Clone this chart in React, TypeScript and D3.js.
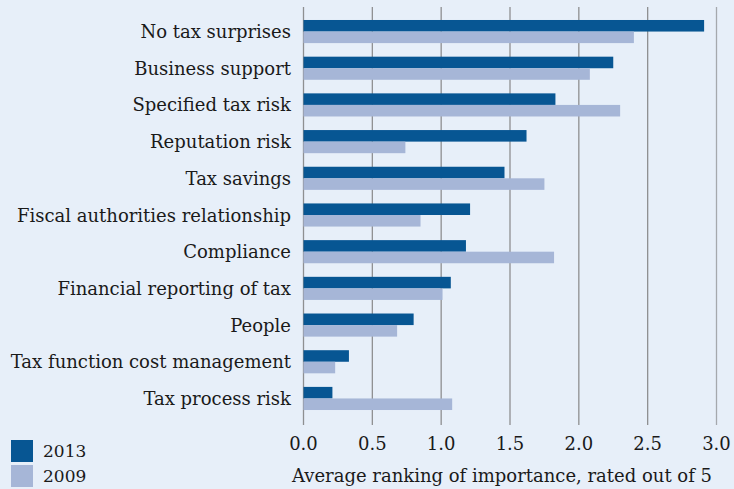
import React from "react";
import * as d3 from "d3";

const categories = [
  "No tax surprises",
  "Business support",
  "Specified tax risk",
  "Reputation risk",
  "Tax savings",
  "Fiscal authorities relationship",
  "Compliance",
  "Financial reporting of tax",
  "People",
  "Tax function cost management",
  "Tax process risk",
];
const values2013 = [2.91, 2.25, 1.83, 1.62, 1.46, 1.21, 1.18, 1.07, 0.8, 0.33, 0.21];
const values2009 = [2.4, 2.08, 2.3, 0.74, 1.75, 0.85, 1.82, 1.01, 0.68, 0.23, 1.08];
const seriesNames = ["2013", "2009"];
const xTicks = [0, 0.5, 1, 1.5, 2, 2.5, 3];
const axisTitle = "Average ranking of importance, rated out of 5";

const W = 734;
const H = 489;
const BG = "#e7eff9";
const C2013 = "#075693";
const C2009 = "#a6b6d7";
const FONT = "'DejaVu Serif', serif";

export default function App() {
  const x = d3.scaleLinear().domain([0, 3]).range([303.5, 716.5]);
  const y = d3
    .scaleBand<string>()
    .domain(categories)
    .range([13.2, 416.8])
    .paddingInner(0.37)
    .paddingOuter(0.185);
  const sub = d3.scaleBand<string>().domain(seriesNames).range([0, y.bandwidth()]);
  const series = [values2013, values2009];
  const colors = [C2013, C2009];

  return (
    <svg
      width={W}
      height={H}
      style={{ position: "absolute", left: 0, top: 0, display: "block" }}
    >
      <rect x={0} y={0} width={W} height={H} fill={BG} />
      {xTicks.map((t, i) => (
        <line
          key={"g" + i}
          x1={x(t)}
          x2={x(t)}
          y1={7}
          y2={425}
          stroke={i === xTicks.length - 1 ? "#a5a8ad" : "#8e8f91"}
          strokeWidth={1.3}
        />
      ))}
      {categories.map((c, ci) => (
        <g key={c}>
          {series.map((vals, si) => (
            <rect
              key={si}
              x={x(0)}
              y={(y(c) as number) + (sub(seriesNames[si]) as number)}
              width={x(vals[ci]) - x(0)}
              height={sub.bandwidth()}
              fill={colors[si]}
            />
          ))}
          <text
            x={291}
            y={(y(c) as number) + y.bandwidth() / 2}
            textAnchor="end"
            dominantBaseline="central"
            fontFamily={FONT}
            fontSize={18}
            fill="#1a1a1a"
          >
            {c}
          </text>
        </g>
      ))}
      {xTicks.map((t, i) => (
        <text
          key={"t" + i}
          x={x(t)}
          y={443}
          textAnchor="middle"
          dominantBaseline="central"
          fontFamily={FONT}
          fontSize={18}
          fill="#1a1a1a"
        >
          {d3.format(".1f")(t)}
        </text>
      ))}
      <text
        x={502}
        y={475}
        textAnchor="middle"
        dominantBaseline="central"
        fontFamily={FONT}
        fontSize={18}
        fill="#1a1a1a"
      >
        {axisTitle}
      </text>
      {seriesNames.map((s, i) => (
        <g key={s}>
          <rect x={11} y={440 + i * 25} width={22} height={22} fill={colors[i]} />
          <text
            x={43}
            y={451 + i * 25}
            dominantBaseline="central"
            fontFamily={FONT}
            fontSize={17}
            fill="#1a1a1a"
          >
            {s}
          </text>
        </g>
      ))}
    </svg>
  );
}
